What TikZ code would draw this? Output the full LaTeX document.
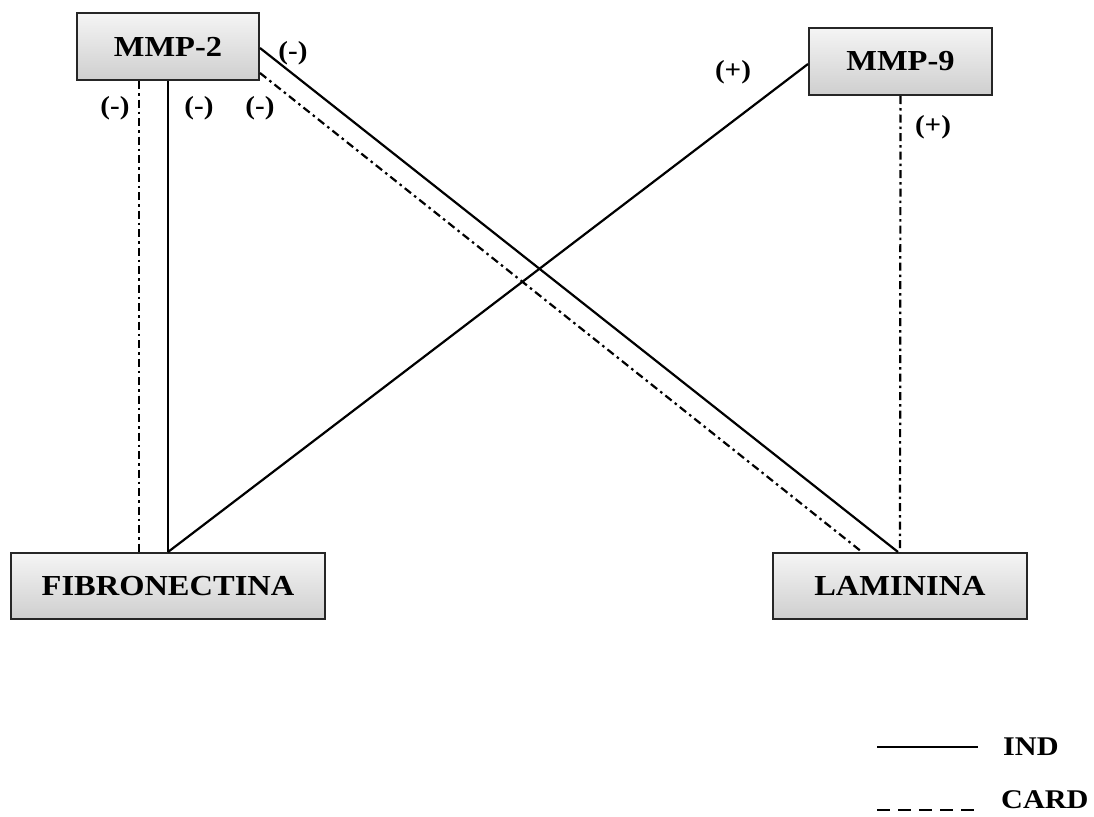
\documentclass[tikz,border=0pt]{standalone}
\usepackage{fontspec}
\setmainfont{Liberation Serif}[FakeStretch=1.12]
\begin{document}
\begin{tikzpicture}[x=1pt,y=-1pt,
  box/.style={draw=black!85,line width=2pt,top color=gray!8,bottom color=gray!38,
    inner sep=0pt,font=\fontsize{29}{32}\selectfont\bfseries},
  ind/.style={line width=2.2pt},
  card/.style={line width=2.2pt,dash pattern=on 8pt off 4pt on 2.5pt off 4pt},
  sign/.style={font=\fontsize{26}{28}\selectfont\bfseries,inner sep=0pt},
  legtxt/.style={font=\fontsize{27}{29}\selectfont\bfseries,inner sep=0pt,anchor=west}]
\useasboundingbox (0,0) rectangle (1094,816);
\node[box,minimum width=182pt,minimum height=67pt] (m2) at (168,46.5) {MMP-2};
\node[box,minimum width=183pt,minimum height=67pt] (m9) at (900.5,61.5) {MMP-9};
\node[box,minimum width=314pt,minimum height=66pt] (fib) at (168,586) {FIBRONECTINA};
\node[box,minimum width=254pt,minimum height=66pt] (lam) at (900,586) {LAMININA};
% connectors
\draw[card] ([xshift=-29pt]m2.south) -- ([xshift=-29pt]fib.north);
\draw[ind] (m2.south) -- (fib.north);
\draw[ind] ([yshift=-1.5pt]m2.east) -- ([xshift=-2pt]lam.north);
\draw[card] ([yshift=-26.5pt]m2.east) -- ([xshift=-38pt]lam.north);
\draw[ind] (fib.north) -- ([yshift=-2.5pt]m9.west);
\draw[card] (m9.south) -- (lam.north);
% signs
\node[sign] (s1) at (293,53) {(-)};
\node[sign] (s2) at (115,108) {(-)};
\node[sign] (s3) at (199,108) {(-)};
\node[sign] (s4) at (260,108) {(-)};
\node[sign] (s5) at (733,72) {(+)};
\node[sign] (s6) at (933,127) {(+)};
% legend
\coordinate (la) at (877,747);
\coordinate (lb) at (978,747);
\draw[ind] (la) -- (lb);
\node[legtxt] (tind) at (1003,747) {IND};
\coordinate (lc) at (877,810);
\coordinate (ld) at (978,810);
\draw[line width=2pt,dash pattern=on 13pt off 8pt] (lc) -- (ld);
\node[legtxt] (tcard) at (1001,800) {CARD};
\end{tikzpicture}
\end{document}
